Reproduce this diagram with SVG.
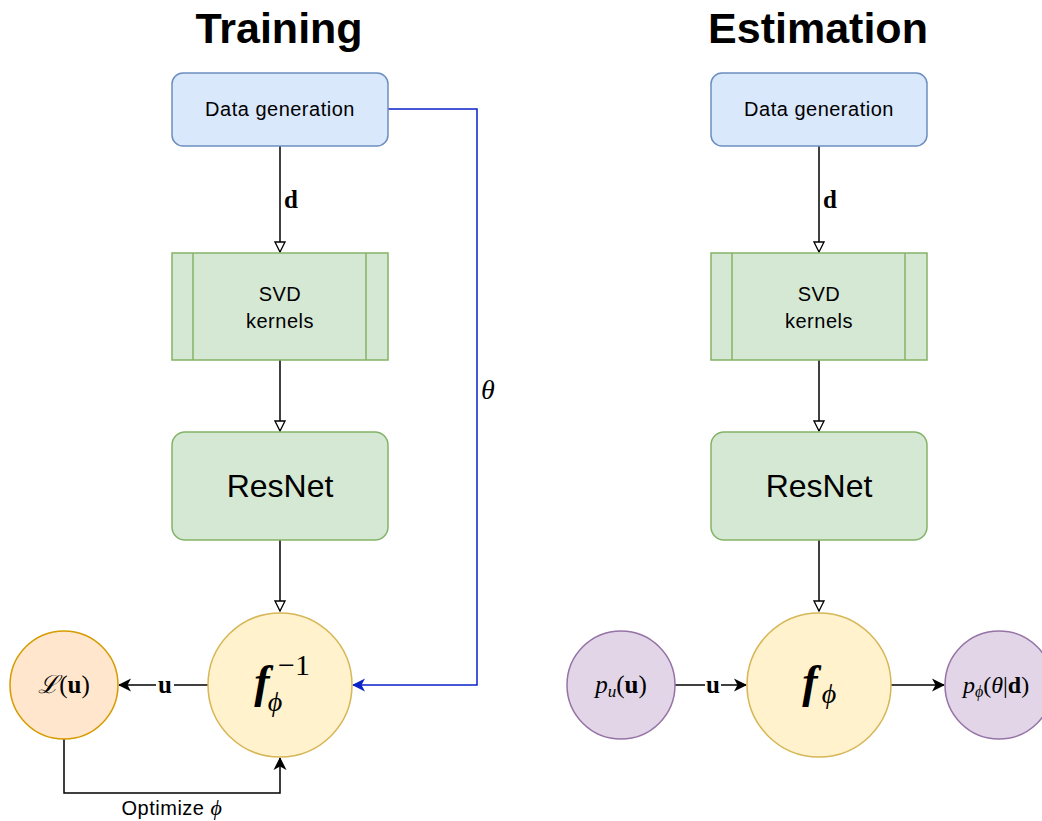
<svg xmlns="http://www.w3.org/2000/svg" width="1042" height="821" viewBox="0 0 1042 821">
<defs>
<marker id="open" viewBox="0 0 12 12" refX="11" refY="6" markerWidth="12" markerHeight="12" markerUnits="userSpaceOnUse" orient="auto">
<path d="M1,1 L11,6 L1,11 Z" fill="#fff" stroke="#000" stroke-width="1.3"/>
</marker>
<marker id="fill" viewBox="0 0 14 14" refX="12" refY="7" markerWidth="14" markerHeight="14" markerUnits="userSpaceOnUse" orient="auto">
<path d="M0,0.5 L13,7 L0,13.5 L3.5,7 Z" fill="#000"/>
</marker>
<marker id="fillblue" viewBox="0 0 14 14" refX="12" refY="7" markerWidth="14" markerHeight="14" markerUnits="userSpaceOnUse" orient="auto">
<path d="M0,0.5 L13,7 L0,13.5 L3.5,7 Z" fill="#0a22c8"/>
</marker>
</defs>
<style>
.title{font-family:"Liberation Sans",Arial,sans-serif;font-weight:bold;font-size:43px;text-anchor:middle}
.lbl{font-family:"Liberation Sans",Arial,sans-serif;font-size:20px;letter-spacing:0.5px;text-anchor:middle}
.big{font-family:"Liberation Sans",Arial,sans-serif;font-size:32px;text-anchor:middle}
.blue{fill:#dae8fc;stroke:#6c8ebf;stroke-width:1.5}
.green{fill:#d5e8d4;stroke:#82b366;stroke-width:1.5}
.yellow{fill:#fff2cc;stroke:#d6b656;stroke-width:1.5}
.orange{fill:#ffe6cc;stroke:#d79b00;stroke-width:1.5}
.purple{fill:#e1d5e7;stroke:#9673a6;stroke-width:1.5}
.math{font-family:"Liberation Serif","DejaVu Serif",serif;text-anchor:middle}
.edge{fill:none;stroke:#000;stroke-width:1.5}
</style>
<text class="title" x="279" y="43">Training</text>
<text class="title" x="818" y="43">Estimation</text>

<g id="connectors">
<path class="edge" d="M280,146 V252" marker-end="url(#open)"/>
<path class="edge" d="M280,360 V431" marker-end="url(#open)"/>
<path class="edge" d="M280,540 V611" marker-end="url(#open)"/>
<path d="M388,109 H477 V685 H353" fill="none" stroke="#0a22c8" stroke-width="1.5" marker-end="url(#fillblue)"/>
<path class="edge" d="M208,685 H119" marker-end="url(#fill)"/>
<path class="edge" d="M64,739 V793 H280 V758" marker-end="url(#fill)"/>
<path class="edge" d="M819,146 V252" marker-end="url(#open)"/>
<path class="edge" d="M819,360 V431" marker-end="url(#open)"/>
<path class="edge" d="M819,540 V611" marker-end="url(#open)"/>
<path class="edge" d="M675,685 H746" marker-end="url(#fill)"/>
<path class="edge" d="M891,685 H944" marker-end="url(#fill)"/>
<rect x="156" y="674" width="18" height="22" fill="#fff"/>
<rect x="705" y="674" width="16" height="22" fill="#fff"/>
<text class="math" x="165" y="693" font-size="25" font-weight="bold">u</text>
<text class="math" x="713" y="693" font-size="25" font-weight="bold">u</text>
<text class="math" x="291" y="208" font-size="25" font-weight="bold">d</text>
<text class="math" x="830" y="208" font-size="25" font-weight="bold">d</text>
<text class="math" x="488" y="399" font-size="28" font-style="italic">θ</text>
<text class="lbl" x="172" y="815">Optimize <tspan font-family="Liberation Serif,serif" font-style="italic" font-size="22">ϕ</tspan></text>
</g>

<g id="datagen-train">
<rect class="blue" x="172" y="73" width="216" height="73" rx="11"/>
<text class="lbl" x="280" y="116">Data generation</text>
</g>
<g id="svd-train">
<rect class="green" x="172" y="253" width="216" height="107"/>
<path d="M193,253 V360 M366,253 V360" stroke="#82b366" stroke-width="1.5"/>
<text class="lbl" x="280" y="301">SVD</text>
<text class="lbl" x="280" y="328">kernels</text>
</g>
<g id="resnet-train">
<rect class="green" x="172" y="432" width="216" height="108" rx="13"/>
<text class="big" x="280" y="497">ResNet</text>
</g>
<g id="finv">
<circle class="yellow" cx="280" cy="685" r="72"/>
<text class="math" font-size="46" font-style="italic" font-weight="bold" x="262" y="697">f</text>
<text class="math" font-size="28" font-style="italic" x="275" y="711">ϕ</text>
<text class="math" font-size="30" x="294" y="675">−1</text>
</g>
<g id="loss">
<circle class="orange" cx="64" cy="685" r="54"/>
<text class="math" font-size="25" x="64" y="693"><tspan font-style="italic">ℒ</tspan>(<tspan font-weight="bold">u</tspan>)</text>
</g>

<g id="datagen-est">
<rect class="blue" x="711" y="73" width="216" height="73" rx="11"/>
<text class="lbl" x="819" y="116">Data generation</text>
</g>
<g id="svd-est">
<rect class="green" x="711" y="253" width="216" height="107"/>
<path d="M732,253 V360 M905,253 V360" stroke="#82b366" stroke-width="1.5"/>
<text class="lbl" x="819" y="301">SVD</text>
<text class="lbl" x="819" y="328">kernels</text>
</g>
<g id="resnet-est">
<rect class="green" x="711" y="432" width="216" height="108" rx="13"/>
<text class="big" x="819" y="497">ResNet</text>
</g>
<g id="f">
<circle class="yellow" cx="819" cy="685" r="72"/>
<text class="math" font-size="46" font-style="italic" font-weight="bold" x="810" y="697">f</text>
<text class="math" font-size="28" font-style="italic" x="829" y="703">ϕ</text>
</g>
<g id="pu">
<circle class="purple" cx="621" cy="685" r="54"/>
<text class="math" font-size="25" x="621" y="693"><tspan font-style="italic">p</tspan><tspan font-size="17" font-style="italic" dy="4">u</tspan><tspan dy="-4">(</tspan><tspan font-weight="bold">u</tspan>)</text>
</g>
<g id="pphi">
<circle class="purple" cx="999" cy="685" r="54"/>
<text class="math" font-size="24" x="996" y="693"><tspan font-style="italic">p</tspan><tspan font-size="16" font-style="italic" dy="4">ϕ</tspan><tspan dy="-4">(</tspan><tspan font-style="italic">θ</tspan>|<tspan font-weight="bold">d</tspan>)</text>
</g>
</svg>
